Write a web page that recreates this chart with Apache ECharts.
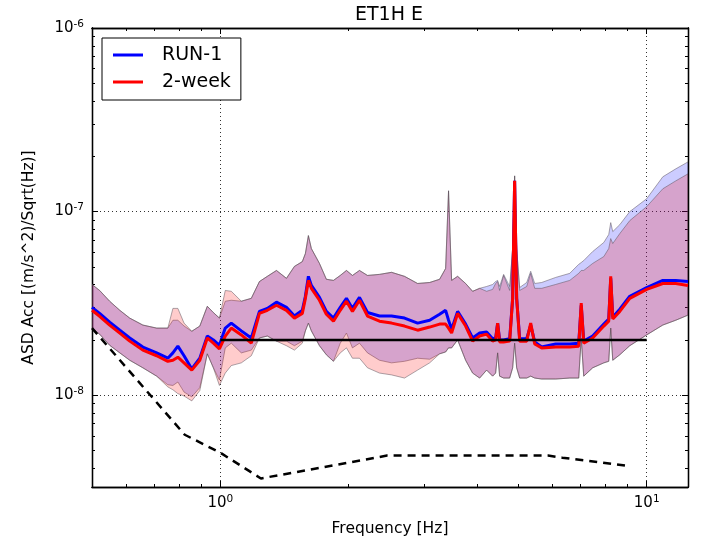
<!DOCTYPE html>
<html><head><meta charset="utf-8">
<script src="https://cdn.jsdelivr.net/npm/echarts@6.0.0/dist/echarts.min.js"></script>
<style>html,body{margin:0;padding:0;background:#fff}#c{width:705px;height:542px}</style>
</head><body><div id="c"></div>
<script>
// values are in units of 1e-8 (m/s^2)/sqrt(Hz)
const UNIT = 1e-8;
const freq = [0.50,0.521,0.55,0.581,0.613,0.658,0.709,0.753,0.774,0.795,
  0.822,0.857,0.895,0.932,0.963,0.995,1.027,1.061,1.12,1.182,
  1.235,1.289,1.354,1.429,1.492,1.557,1.583,1.609,1.635,1.708,
  1.773,1.842,1.911,1.976,2.041,2.12,2.214,2.362,2.521,2.704,
  2.902,3.097,3.268,3.376,3.43,3.487,3.602,3.761,3.906,4.057,
  4.213,4.352,4.423,4.471,4.519,4.618,4.771,4.849,4.901,4.955,
  5.036,5.231,5.345,5.462,5.672,6.117,6.60,6.928,7.022,7.117,
  7.47,7.933,8.147,8.235,8.326,8.648,9.127,10.0,10.91,11.7,12.5];
const week2Median = [2.90,2.69,2.41,2.18,1.97,1.76,1.64,1.53,1.55,1.61,
  1.50,1.37,1.55,2.05,1.92,1.79,2.10,2.32,2.13,1.92,
  2.79,2.90,3.09,2.90,2.63,2.79,3.37,4.22,3.82,3.29,
  2.76,2.53,2.90,3.25,2.86,3.29,2.70,2.53,2.47,2.38,
  2.26,2.35,2.44,2.44,2.32,2.18,2.79,2.38,1.97,2.10,
  2.15,1.97,2.00,2.47,1.95,1.95,1.97,3.37,14.7,3.37,
  1.97,1.97,2.47,1.90,1.81,1.83,1.83,1.85,3.17,1.92,
  2.05,2.38,2.53,4.44,2.60,2.86,3.37,3.77,4.06,4.06,3.96];
const run1Median = [3.01,2.79,2.50,2.26,2.05,1.83,1.70,1.59,1.70,1.85,
  1.64,1.39,1.59,2.10,2.00,1.87,2.32,2.47,2.24,2.05,
  2.86,2.97,3.21,3.01,2.70,2.90,3.46,4.44,3.96,3.41,
  2.86,2.63,3.01,3.37,2.97,3.41,2.82,2.70,2.70,2.63,
  2.47,2.56,2.76,2.90,2.56,2.29,2.86,2.44,2.05,2.18,
  2.21,2.03,2.05,2.47,2.00,2.00,2.03,3.37,14.7,3.37,
  2.03,2.03,2.41,1.95,1.83,1.90,1.90,1.92,3.09,1.97,
  2.10,2.44,2.60,4.33,2.66,2.94,3.46,3.86,4.22,4.22,4.16];
const week2Upper = [4.01,3.72,3.25,2.90,2.63,2.41,2.32,2.32,2.97,2.97,
  2.47,2.23,2.38,3.05,2.82,2.63,3.72,3.68,3.25,3.37,
  4.16,4.44,4.78,4.33,5.03,5.34,5.91,7.40,6.29,5.22,
  4.28,4.22,4.49,4.78,4.49,4.78,4.49,4.55,4.67,4.44,
  4.06,4.11,4.28,4.90,12.98,4.22,4.44,4.06,3.68,3.82,
  3.68,3.77,4.06,4.16,3.72,4.49,3.72,6.29,15.65,6.29,
  3.72,3.91,4.61,3.82,3.82,4.01,4.22,4.61,4.78,4.78,
  5.22,5.69,6.29,7.13,6.70,7.59,8.93,10.64,13.31,14.7,16.05];
const run1Upper = [4.01,3.72,3.25,2.90,2.63,2.41,2.32,2.32,2.56,2.56,
  2.38,2.23,2.38,3.05,2.82,2.63,3.25,3.29,3.25,3.37,
  4.16,4.44,4.78,4.33,5.03,5.34,5.91,7.40,6.29,5.22,
  4.28,4.22,4.49,4.78,4.49,4.78,4.49,4.55,4.67,4.44,
  4.06,4.11,4.28,4.90,12.98,4.22,4.44,4.06,3.68,3.82,
  3.91,4.01,4.16,4.22,3.91,4.55,3.91,6.29,15.65,6.29,
  3.86,4.11,4.73,4.06,4.11,4.38,4.61,5.16,5.28,5.41,
  6.06,6.79,7.50,8.71,7.78,8.49,10.0,11.75,15.47,17.09,18.65];
const week2Lower = [2.32,2.15,1.87,1.70,1.55,1.41,1.27,1.11,1.07,1.02,
  0.99,0.931,1.06,1.68,1.41,1.13,1.32,1.45,1.50,1.64,
  2.05,2.10,1.97,1.86,1.76,1.92,2.24,2.47,2.24,1.86,
  1.66,1.53,1.70,1.81,1.59,1.59,1.41,1.32,1.29,1.24,
  1.37,1.50,1.68,1.72,1.81,1.81,2.00,1.55,1.32,1.24,
  1.37,1.27,1.32,1.70,1.27,1.24,1.24,1.41,1.92,1.41,
  1.24,1.24,1.27,1.24,1.225,1.225,1.24,1.24,2.05,1.27,
  1.41,1.50,1.53,2.32,1.55,1.66,1.86,2.13,2.41,2.56,2.73];
const run1Lower = [2.32,2.15,1.87,1.70,1.55,1.41,1.27,1.14,1.13,1.18,
  1.04,0.98,1.10,1.68,1.41,1.21,1.81,1.92,1.70,1.76,
  2.05,2.10,1.97,1.97,1.86,1.97,2.24,2.47,2.24,1.86,
  1.66,1.53,1.92,2.18,1.81,1.92,1.70,1.55,1.50,1.53,
  1.59,1.57,1.68,1.72,1.81,1.81,2.00,1.55,1.32,1.24,
  1.37,1.27,1.32,1.70,1.27,1.24,1.24,1.41,1.92,1.41,
  1.24,1.24,1.27,1.24,1.225,1.225,1.24,1.24,2.05,1.27,
  1.41,1.50,1.53,2.32,1.55,1.66,1.86,2.13,2.41,2.56,2.73];
const limitFreq = [1, 10];
const limitLevel = [2.0, 2.0];
const modelFreq = [0.5, 0.825, 1.0, 1.245, 2.46, 5.87, 6.34, 8.91];
const modelLevel = [2.32, 0.609, 0.486, 0.352, 0.469, 0.469, 0.457, 0.414];
const xMajorTicks = [1, 10];
const xMinorTicks = [0.6,0.7,0.8,0.9,2,3,4,5,6,7,8,9];
const yMajorTicks = [1e-8, 1e-7, 0.99999e-6];
const yMinorTicks = [4e-9,5e-9,6e-9,7e-9,8e-9,9e-9,2e-8,3e-8,4e-8,5e-8,6e-8,7e-8,8e-8,9e-8,2e-7,3e-7,4e-7,5e-7,6e-7,7e-7,8e-7,9e-7];

const FONT = 'DejaVu Sans';
const pairs = (xs, ys, k) => xs.map((x, i) => [x, ys[i] * k]);

function powLabel(v) {
  const e = Math.round(Math.log10(v));
  return '{b|10}{s|' + e + '}';
}
const labelRich = {
  b: {fontSize: 15, fontFamily: FONT, color: '#000'},
  s: {fontSize: 10.5, fontFamily: FONT, color: '#000', verticalAlign: 'bottom', padding: [0, 0, 8, 0]}
};

function axisDef(kind, pos, major, extra) {
  const isX = kind === 'x';
  const base = {
    type: 'log', logBase: 10,
    min: isX ? 0.5 : Math.pow(10, -8.5), max: isX ? 12.5 : 1e-6,
    position: pos,
    axisLine: {show: true, onZero: false, lineStyle: {color: '#000', width: 1.3}},
    axisTick: {show: true, inside: true, length: major ? 6 : 3,
      customValues: isX ? (major ? xMajorTicks : xMinorTicks) : (major ? yMajorTicks : yMinorTicks),
      lineStyle: {color: '#000', width: 1}},
    axisLabel: {show: false},
    splitLine: {show: false},
    minorTick: {show: false},
    minorSplitLine: {show: false}
  };
  return Object.assign(base, extra || {});
}

function bandSeries(upper, lower, fill, z) {
  return {
    type: 'custom', coordinateSystem: 'cartesian2d', silent: true, z: z, clip: true,
    data: [[freq[0], lower[0] * UNIT]],
    encode: {x: 0, y: 1},
    renderItem: function (params, api) {
      const pts = [];
      for (let i = 0; i < freq.length; i++) pts.push(api.coord([freq[i], upper[i] * UNIT]));
      for (let i = freq.length - 1; i >= 0; i--) pts.push(api.coord([freq[i], lower[i] * UNIT]));
      return {type: 'polygon', shape: {points: pts},
        style: {fill: fill, stroke: 'rgba(90,80,90,0.5)', lineWidth: 1}};
    }
  };
}

const chart = echarts.init(document.getElementById('c'), null, {renderer: 'canvas'});
chart.setOption({
  animation: false,
  backgroundColor: '#fff',
  title: {text: 'ET1H E', left: 350, top: 1,
    textStyle: {fontFamily: FONT, fontSize: 19, fontWeight: 'normal', color: '#000'}},
  legend: {
    data: [{name: 'RUN-1'}, {name: '2-week'}],
    orient: 'vertical', left: 102, top: 38,
    padding: [7, 10, 8, 11], itemGap: 7, itemWidth: 30, itemHeight: 3, icon: 'rect',
    selectedMode: false,
    textStyle: {fontFamily: FONT, fontSize: 19, color: '#000', lineHeight: 20, padding: [0, 0, 0, 14]},
    borderColor: '#000', borderWidth: 1, borderRadius: 0, backgroundColor: '#fff'
  },
  grid: {left: 92, right: 17, top: 28, bottom: 53, containLabel: false},
  xAxis: [
    axisDef('x', 'bottom', true, {
      name: 'Frequency [Hz]', nameLocation: 'middle', nameGap: 34,
      nameTextStyle: {fontFamily: FONT, fontSize: 15.5, color: '#000'},
      axisLabel: {show: true, customValues: xMajorTicks, margin: 7, formatter: powLabel, rich: labelRich},
      splitLine: {show: true, lineStyle: {color: '#000', width: 1, type: [1, 3], opacity: 0.8}}
    }),
    axisDef('x', 'bottom', false),
    axisDef('x', 'top', true),
    axisDef('x', 'top', false)
  ],
  yAxis: [
    axisDef('y', 'left', true, {
      name: 'ASD Acc [(m/s^2)/Sqrt(Hz)]', nameLocation: 'middle', nameGap: 55,
      nameTextStyle: {fontFamily: FONT, fontSize: 15.5, color: '#000'},
      axisLabel: {show: true, customValues: yMajorTicks, margin: 8, formatter: powLabel, rich: labelRich},
      splitLine: {show: true, lineStyle: {color: '#000', width: 1, type: [1, 3], opacity: 0.8}}
    }),
    axisDef('y', 'left', false),
    axisDef('y', 'right', true),
    axisDef('y', 'right', false)
  ],
  series: [
    bandSeries(run1Upper, run1Lower, 'rgba(0,0,255,0.2)', 1),
    bandSeries(week2Upper, week2Lower, 'rgba(255,0,0,0.2)', 2),
    {name: 'RUN-1', type: 'line', data: pairs(freq, run1Median, UNIT), showSymbol: false, symbol: 'none',
      z: 3, silent: true, color: '#0000ff', lineStyle: {color: '#0000ff', width: 3}},
    {name: '2-week', type: 'line', data: pairs(freq, week2Median, UNIT), showSymbol: false, symbol: 'none',
      z: 4, silent: true, color: '#ff0000', lineStyle: {color: '#ff0000', width: 3}},
    {name: 'limit', type: 'line', data: pairs(limitFreq, limitLevel, UNIT), showSymbol: false, symbol: 'none',
      z: 5, silent: true, lineStyle: {color: '#000', width: 2.5}},
    {name: 'model', type: 'line', data: pairs(modelFreq, modelLevel, UNIT), showSymbol: false, symbol: 'none',
      z: 5, silent: true, lineStyle: {color: '#000', width: 2.5, type: [8, 6]}}
  ]
});
</script>
</body></html>
